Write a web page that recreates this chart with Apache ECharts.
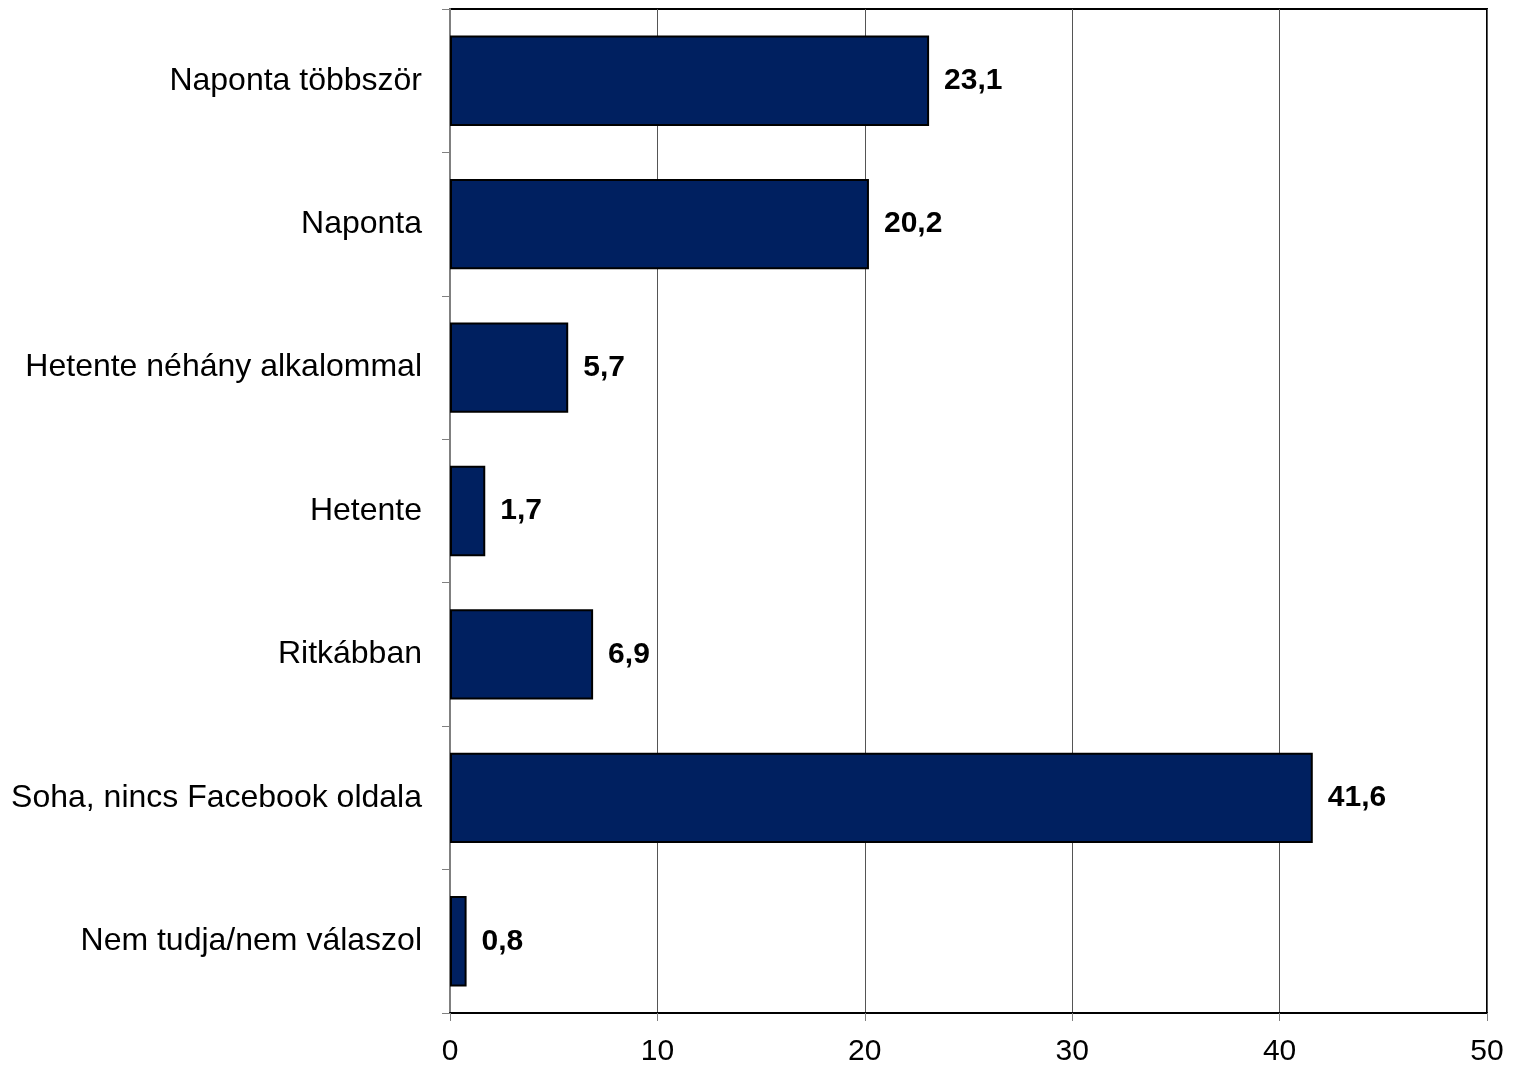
<!DOCTYPE html>
<html>
<head>
<meta charset="utf-8">
<script src="https://cdn.jsdelivr.net/npm/echarts@6/dist/echarts.min.js"></script>
<style>html,body{margin:0;padding:0;background:#fff;}#c{width:1521px;height:1068px;}</style>
</head>
<body>
<div id="c"></div>
<script>
const categories = ["Naponta többször","Naponta","Hetente néhány alkalommal","Hetente","Ritkábban","Soha, nincs Facebook oldala","Nem tudja/nem válaszol"];
const values = [23.1,20.2,5.7,1.7,6.9,41.6,0.8];
const xTicks = [0,10,20,30,40,50];

const chart = echarts.init(document.getElementById('c'), null, {renderer:'canvas'});
chart.setOption({
  animation:false,
  backgroundColor:'#fff',
  grid:{left:450,right:34,top:9,bottom:55,show:true,borderColor:'#000',borderWidth:2,containLabel:false},
  xAxis:{
    type:'value',min:xTicks[0],max:xTicks[xTicks.length-1],interval:10,
    axisLine:{show:true,lineStyle:{color:'#000',width:2}},
    axisTick:{show:true,length:8,lineStyle:{color:'#808080',width:1}},
    splitLine:{show:true,lineStyle:{color:'#555',width:1}},
    axisLabel:{fontFamily:'Liberation Sans, Arial, sans-serif',fontSize:30,color:'#000',margin:24,formatter:v=>String(v)}
  },
  yAxis:{
    type:'category',data:categories,inverse:true,
    axisLine:{show:true,lineStyle:{color:'#808080',width:2}},
    axisTick:{show:true,length:8,alignWithLabel:false,lineStyle:{color:'#808080',width:1}},
    axisLabel:{fontFamily:'Liberation Sans, Arial, sans-serif',fontSize:32,color:'#000',margin:28}
  },
  series:[{
    type:'bar',data:values,barCategoryGap:'37%',
    itemStyle:{color:'#002060',borderColor:'#000',borderWidth:2},
    label:{show:true,position:'right',distance:15,fontFamily:'Liberation Sans, Arial, sans-serif',fontSize:30,fontWeight:'bold',color:'#000',formatter:p=>String(p.value.toFixed(1)).replace('.',',')}
  }]
});
</script>
</body>
</html>
